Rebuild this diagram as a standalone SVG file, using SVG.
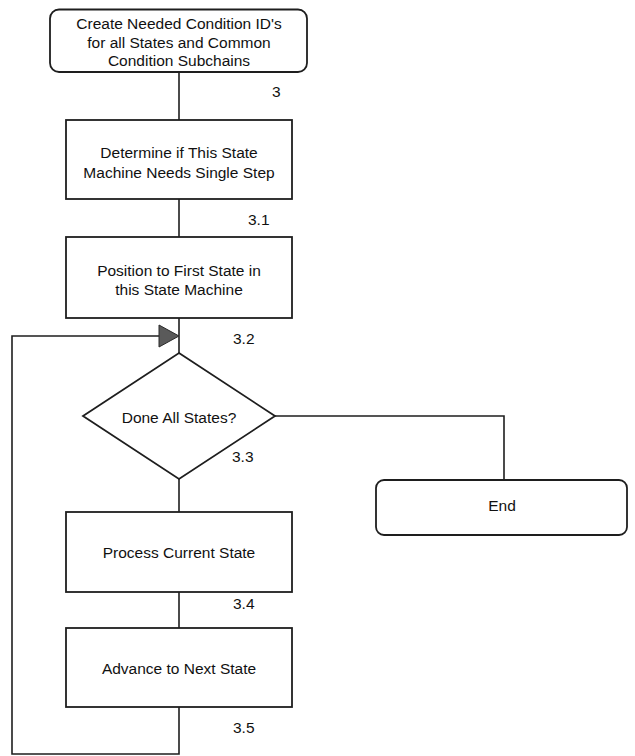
<svg xmlns="http://www.w3.org/2000/svg" width="635" height="756" viewBox="0 0 635 756">
  <style>
    .shape { fill: #ffffff; stroke: #1e1e1e; stroke-width: 1.8; }
    .wire { fill: none; stroke: #1e1e1e; stroke-width: 1.6; }
    .label { font-family: "Liberation Sans", Arial, sans-serif; font-size: 15.5px; fill: #111; text-anchor: middle; }
    .num { font-family: "Liberation Sans", Arial, sans-serif; font-size: 15.5px; fill: #111; }
  </style>
  <rect width="635" height="756" fill="#ffffff"/>

  <!-- connectors -->
  <g id="connectors">
    <line class="wire" x1="179" y1="72" x2="179" y2="120"/>
    <line class="wire" x1="179" y1="199" x2="179" y2="237"/>
    <line class="wire" x1="179" y1="318" x2="179" y2="353"/>
    <line class="wire" x1="179" y1="479" x2="179" y2="512"/>
    <line class="wire" x1="179" y1="592" x2="179" y2="628"/>
    <polyline class="wire" points="275,416 504,416 504,480"/>
    <polyline class="wire" points="179,707 179,754 12,754 12,336 160,336"/>
    <polygon points="159,325 179,336 159,347" fill="#5a5a5a" stroke="#2a2a2a" stroke-width="1"/>
  </g>

  <!-- start terminal -->
  <g id="node-create">
    <rect class="shape" x="50" y="9.5" width="257" height="62.5" rx="9"/>
    <text class="label" x="179" y="29">Create Needed Condition ID's</text>
    <text class="label" x="179" y="48">for all States and Common</text>
    <text class="label" x="179" y="66">Condition Subchains</text>
    <text class="num" x="272" y="97">3</text>
  </g>

  <g id="node-single-step">
    <rect class="shape" x="66" y="120" width="226" height="79"/>
    <text class="label" x="179" y="158">Determine if This State</text>
    <text class="label" x="179" y="178">Machine Needs Single Step</text>
    <text class="num" x="248" y="225">3.1</text>
  </g>

  <g id="node-position">
    <rect class="shape" x="66" y="237" width="226" height="81"/>
    <text class="label" x="179" y="276">Position to First State in</text>
    <text class="label" x="179" y="295">this State Machine</text>
    <text class="num" x="233" y="344">3.2</text>
  </g>

  <g id="node-done">
    <polygon class="shape" points="179,353 275,416 179,479 83,416"/>
    <text class="label" x="179" y="423">Done All States?</text>
    <text class="num" x="232" y="462">3.3</text>
  </g>

  <g id="node-end">
    <rect class="shape" x="376" y="480" width="251" height="55" rx="8"/>
    <text class="label" x="502" y="511">End</text>
  </g>

  <g id="node-process">
    <rect class="shape" x="66" y="512" width="226" height="80"/>
    <text class="label" x="179" y="558">Process Current State</text>
    <text class="num" x="233" y="609">3.4</text>
  </g>

  <g id="node-advance">
    <rect class="shape" x="66" y="628" width="226" height="79"/>
    <text class="label" x="179" y="674">Advance to Next State</text>
    <text class="num" x="233" y="733">3.5</text>
  </g>
</svg>
